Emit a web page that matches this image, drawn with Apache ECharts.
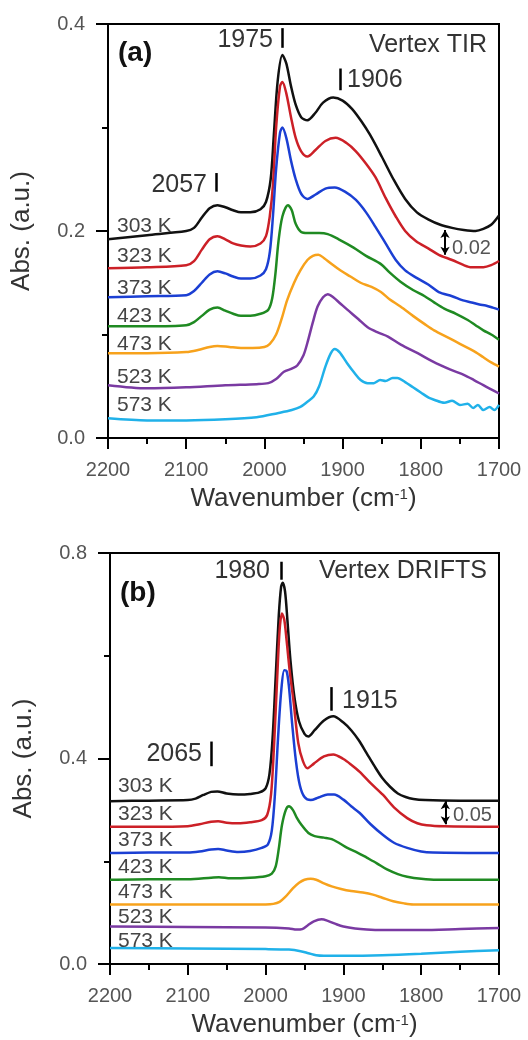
<!DOCTYPE html>
<html><head><meta charset="utf-8">
<script src="https://cdn.jsdelivr.net/npm/echarts@6/dist/echarts.min.js"></script>
<style>html,body{margin:0;padding:0;background:#fff}#c{width:528px;height:1040px}</style>
</head><body><div id="c"></div>
<script>
// ---------- DATA ----------
const temperatures = ['303 K','323 K','373 K','423 K','473 K','523 K','573 K'];

// Panel (a) Vertex TIR : [wavenumber, absorbance]
const tir303 = [[2200,0.192],[2150,0.196],[2100,0.200],[2090,0.203],[2080,0.213],[2070,0.222],[2060,0.225],[2050,0.223],[2040,0.220],[2030,0.218],[2018,0.218],[2005,0.221],[1998,0.228],[1992,0.250],[1988,0.292],[1983,0.345],[1977,0.370],[1972,0.362],[1966,0.340],[1960,0.322],[1953,0.310],[1945,0.307],[1935,0.314],[1925,0.324],[1912,0.329],[1900,0.326],[1888,0.318],[1876,0.306],[1865,0.293],[1850,0.272],[1835,0.250],[1820,0.231],[1805,0.218],[1790,0.211],[1775,0.206],[1760,0.203],[1745,0.201],[1730,0.200],[1720,0.202],[1710,0.206],[1700,0.215]];
const tir323 = [[2200,0.164],[2150,0.165],[2100,0.167],[2090,0.171],[2080,0.182],[2070,0.192],[2060,0.195],[2050,0.192],[2040,0.188],[2030,0.186],[2018,0.185],[2005,0.188],[1998,0.195],[1993,0.215],[1989,0.245],[1985,0.300],[1980,0.340],[1977,0.344],[1972,0.333],[1966,0.310],[1960,0.290],[1953,0.277],[1945,0.272],[1935,0.278],[1922,0.287],[1909,0.290],[1895,0.285],[1883,0.277],[1870,0.265],[1858,0.252],[1845,0.232],[1832,0.214],[1820,0.200],[1806,0.190],[1790,0.183],[1777,0.177],[1760,0.172],[1745,0.167],[1735,0.165],[1720,0.165],[1710,0.167],[1700,0.171]];
const tir373 = [[2200,0.136],[2150,0.137],[2100,0.138],[2090,0.142],[2080,0.150],[2070,0.158],[2060,0.161],[2050,0.159],[2040,0.156],[2030,0.154],[2018,0.154],[2005,0.157],[1998,0.163],[1993,0.180],[1989,0.215],[1985,0.260],[1980,0.295],[1977,0.300],[1972,0.290],[1966,0.268],[1960,0.250],[1953,0.236],[1945,0.231],[1935,0.235],[1922,0.241],[1910,0.242],[1897,0.238],[1883,0.230],[1870,0.218],[1858,0.204],[1845,0.188],[1832,0.172],[1820,0.162],[1806,0.155],[1790,0.148],[1777,0.141],[1760,0.137],[1746,0.133],[1735,0.131],[1725,0.129],[1717,0.128],[1708,0.126],[1700,0.124]];
const tir423 = [[2200,0.108],[2150,0.108],[2100,0.109],[2090,0.112],[2080,0.118],[2070,0.124],[2060,0.126],[2050,0.123],[2040,0.120],[2030,0.118],[2018,0.118],[2005,0.120],[1995,0.124],[1990,0.135],[1986,0.158],[1982,0.190],[1977,0.214],[1970,0.225],[1965,0.220],[1960,0.207],[1953,0.199],[1945,0.198],[1930,0.198],[1919,0.197],[1905,0.192],[1886,0.184],[1870,0.176],[1851,0.168],[1840,0.160],[1826,0.151],[1810,0.143],[1795,0.137],[1783,0.131],[1770,0.125],[1755,0.120],[1740,0.114],[1730,0.109],[1720,0.104],[1710,0.100],[1700,0.095]];
const tir473 = [[2200,0.082],[2150,0.082],[2100,0.083],[2085,0.085],[2070,0.088],[2060,0.089],[2045,0.088],[2030,0.087],[2015,0.087],[2000,0.088],[1993,0.091],[1985,0.100],[1978,0.115],[1971,0.133],[1962,0.150],[1954,0.162],[1945,0.172],[1938,0.176],[1931,0.177],[1924,0.174],[1914,0.168],[1903,0.162],[1890,0.156],[1877,0.150],[1863,0.146],[1851,0.141],[1840,0.134],[1826,0.127],[1810,0.118],[1795,0.110],[1783,0.104],[1765,0.097],[1750,0.091],[1740,0.087],[1730,0.083],[1720,0.078],[1710,0.073],[1700,0.069]];
const tir523 = [[2200,0.051],[2150,0.048],[2100,0.049],[2050,0.051],[2010,0.052],[1995,0.053],[1985,0.057],[1975,0.064],[1965,0.067],[1958,0.070],[1950,0.080],[1945,0.092],[1938,0.112],[1932,0.127],[1925,0.136],[1919,0.139],[1912,0.136],[1903,0.130],[1894,0.124],[1880,0.115],[1868,0.107],[1855,0.102],[1842,0.098],[1825,0.090],[1804,0.082],[1785,0.074],[1762,0.066],[1745,0.061],[1732,0.056],[1720,0.051],[1710,0.047],[1700,0.043]];
const tir573 = [[2200,0.019],[2150,0.017],[2100,0.017],[2050,0.018],[2010,0.020],[1983,0.024],[1965,0.027],[1954,0.030],[1945,0.035],[1937,0.040],[1930,0.050],[1922,0.069],[1915,0.082],[1910,0.086],[1904,0.083],[1894,0.072],[1885,0.063],[1877,0.056],[1868,0.053],[1860,0.053],[1852,0.056],[1845,0.055],[1836,0.058],[1830,0.058],[1820,0.054],[1810,0.049],[1800,0.044],[1790,0.039],[1783,0.037],[1770,0.034],[1760,0.036],[1750,0.032],[1740,0.033],[1733,0.029],[1727,0.032],[1720,0.027],[1712,0.030],[1706,0.027],[1700,0.032]];

// Panel (b) Vertex DRIFTS : [wavenumber, absorbance]
const drifts303 = [[2200,0.317],[2150,0.318],[2100,0.319],[2090,0.322],[2080,0.329],[2070,0.335],[2062,0.336],[2050,0.332],[2035,0.330],[2020,0.331],[2008,0.334],[2000,0.342],[1995,0.370],[1991,0.440],[1987,0.560],[1983,0.680],[1980,0.735],[1978,0.742],[1975,0.725],[1972,0.670],[1968,0.590],[1963,0.520],[1957,0.472],[1950,0.448],[1945,0.443],[1937,0.455],[1925,0.474],[1913,0.482],[1900,0.470],[1890,0.455],[1880,0.435],[1870,0.410],[1860,0.385],[1850,0.362],[1840,0.345],[1830,0.332],[1820,0.325],[1810,0.321],[1795,0.319],[1750,0.318],[1700,0.318]];
const drifts323 = [[2200,0.267],[2150,0.267],[2100,0.268],[2085,0.272],[2070,0.277],[2061,0.278],[2050,0.275],[2035,0.274],[2020,0.276],[2005,0.280],[1998,0.290],[1993,0.330],[1989,0.430],[1985,0.560],[1982,0.650],[1979,0.682],[1976,0.670],[1973,0.630],[1969,0.570],[1964,0.510],[1958,0.430],[1952,0.395],[1946,0.381],[1938,0.390],[1925,0.404],[1913,0.408],[1900,0.399],[1890,0.388],[1879,0.374],[1865,0.352],[1849,0.329],[1835,0.305],[1818,0.284],[1805,0.274],[1793,0.270],[1770,0.268],[1700,0.267]];
const drifts373 = [[2200,0.216],[2150,0.217],[2100,0.217],[2085,0.219],[2070,0.223],[2061,0.224],[2050,0.221],[2035,0.218],[2020,0.220],[2005,0.226],[1997,0.233],[1992,0.260],[1988,0.330],[1984,0.440],[1980,0.530],[1976,0.572],[1973,0.570],[1970,0.540],[1966,0.470],[1961,0.395],[1956,0.348],[1950,0.325],[1942,0.319],[1932,0.324],[1920,0.330],[1912,0.330],[1900,0.320],[1890,0.307],[1879,0.294],[1865,0.272],[1849,0.251],[1835,0.236],[1818,0.226],[1800,0.219],[1785,0.217],[1700,0.216]];
const drifts423 = [[2200,0.164],[2150,0.165],[2100,0.165],[2070,0.168],[2060,0.169],[2045,0.167],[2020,0.168],[2000,0.171],[1992,0.176],[1987,0.190],[1983,0.225],[1979,0.270],[1974,0.300],[1970,0.307],[1965,0.300],[1960,0.285],[1954,0.271],[1945,0.255],[1937,0.249],[1925,0.246],[1915,0.243],[1905,0.235],[1895,0.226],[1882,0.217],[1870,0.207],[1857,0.196],[1844,0.184],[1830,0.175],[1818,0.170],[1800,0.166],[1780,0.164],[1700,0.164]];
const drifts473 = [[2200,0.116],[2100,0.116],[2000,0.116],[1990,0.117],[1982,0.121],[1975,0.130],[1965,0.147],[1957,0.158],[1950,0.164],[1942,0.166],[1935,0.164],[1925,0.157],[1915,0.151],[1903,0.146],[1890,0.142],[1875,0.139],[1862,0.135],[1850,0.129],[1836,0.122],[1822,0.118],[1810,0.116],[1700,0.116]];
const drifts523 = [[2200,0.073],[2100,0.072],[2000,0.071],[1970,0.069],[1960,0.067],[1953,0.068],[1946,0.075],[1938,0.083],[1928,0.087],[1920,0.084],[1910,0.078],[1900,0.073],[1885,0.069],[1870,0.067],[1850,0.066],[1800,0.066],[1750,0.068],[1700,0.070]];
const drifts573 = [[2200,0.031],[2100,0.030],[2000,0.029],[1970,0.028],[1955,0.025],[1945,0.021],[1935,0.017],[1925,0.016],[1900,0.016],[1850,0.017],[1800,0.020],[1750,0.024],[1700,0.027]];

// peak annotations: label, marker wavenumber, marker y-range
const tirPeakLabels = ['2057','1975','1906'];
const tirPeakWave = [2062, 1977, 1903];
const tirPeakRange = [[0.238,0.256],[0.377,0.396],[0.336,0.357]];
const driftsPeakLabels = ['2065','1980','1915'];
const driftsPeakWave = [2070, 1980, 1915];
const driftsPeakRange = [[0.385,0.433],[0.748,0.783],[0.493,0.539]];
// scale bars
const tirScale = {label:'0.02', wave:1769, from:0.177, to:0.201};
const driftsScale = {label:'0.05', wave:1769, from:0.272, to:0.317};

const xTicks = [2200, 2100, 2000, 1900, 1800, 1700];

// ---------- CHART ----------
const FONT = '"Liberation Sans", Arial, Helvetica, sans-serif';
const colors = ['#111111','#cc2027','#1b3fd3','#1f8a22','#f7a21c','#7a3aa2','#20b1e9'];
const tirData = [tir303, tir323, tir373, tir423, tir473, tir523, tir573];
const driftsData = [drifts303, drifts323, drifts373, drifts423, drifts473, drifts523, drifts573];

function xAxisCfg(gi){
  return {
    gridIndex: gi, type:'value', min:1700, max:2200, interval:100, inverse:true,
    axisLine:{lineStyle:{color:'#000', width:2}},
    axisTick:{show:true, length:11, lineStyle:{color:'#000', width:2}},
    minorTick:{show:true, splitNumber:2, length:6, lineStyle:{color:'#000', width:2}},
    splitLine:{show:false}, minorSplitLine:{show:false},
    axisLabel:{fontSize:20, color:'#555', margin:22, fontFamily:FONT,
      formatter: v => xTicks.includes(v) ? String(v) : ''},
    name:'Wavenumber (cm{sup|-1})', nameLocation:'middle', nameGap:47,
    nameTextStyle:{fontSize:26, color:'#333', fontFamily:FONT, lineHeight:28,
      rich:{sup:{fontSize:15, verticalAlign:'top', lineHeight:15, color:'#333', fontFamily:FONT, padding:[2,0,0,0]}}}
  };
}
function yAxisCfg(gi, max, interval){
  return {
    gridIndex: gi, type:'value', min:0, max:max, interval:interval,
    axisLine:{show:true, lineStyle:{color:'#000', width:2}},
    axisTick:{show:true, length:12, lineStyle:{color:'#000', width:2}},
    minorTick:{show:true, splitNumber:2, length:6, lineStyle:{color:'#000', width:2}},
    splitLine:{show:false}, minorSplitLine:{show:false},
    axisLabel:{fontSize:20, color:'#555', margin:23, fontFamily:FONT, formatter: v => v.toFixed(1)},
    name:'Abs. (a.u.)', nameLocation:'middle', nameGap:73, nameRotate:90,
    nameTextStyle:{fontSize:26, color:'#333', fontFamily:FONT}
  };
}

function peakMarks(waves, ranges){
  return waves.map((w,i)=>[{coord:[w, ranges[i][1]]},{coord:[w, ranges[i][0]]}]);
}

const series = [];
function addPanel(dataList, gi, waves, ranges, scale){
  dataList.forEach((d, i) => {
    const s = {
      type:'line', xAxisIndex:gi, yAxisIndex:gi, data:d, name:temperatures[i],
      smooth:0.3, showSymbol:false, symbol:'none', silent:true, animation:false,
      lineStyle:{color:colors[i], width:2.5}, z:2+i
    };
    if (i === 0) {
      s.markLine = {silent:true, animation:false, symbol:['none','none'], label:{show:false},
        lineStyle:{color:'#000', width:2.5, type:'solid'}, data: peakMarks(waves, ranges)};
    }
    if (i === 1) {
      s.markLine = {silent:true, animation:false, symbol:['arrow','arrow'], symbolSize:[7,8], label:{show:false},
        lineStyle:{color:'#000', width:2, type:'solid'},
        data:[[{coord:[scale.wave, scale.to]},{coord:[scale.wave, scale.from]}]]};
    }
    series.push(s);
  });
}
addPanel(tirData, 0, tirPeakWave, tirPeakRange, tirScale);
addPanel(driftsData, 1, driftsPeakWave, driftsPeakRange, driftsScale);

function txt(text, x, y, size, opt){
  opt = opt || {};
  return {type:'text', x:x, y:y, silent:true, z:100,
    style:{text:text, fill:opt.color || '#333', font:(opt.bold?'bold ':'') + size + 'px ' + FONT,
      textAlign:opt.align || 'left', textVerticalAlign:'middle'}};
}

const tirLabelY = [226, 256, 288, 316, 344, 377, 405];
const driftsLabelY = [786, 814, 840, 867, 892, 917, 941];
const graphics = [
  txt('(a)', 118, 53, 28, {bold:true, color:'#111'}),
  txt('Vertex TIR', 487, 45, 25, {align:'right'}),
  txt(tirPeakLabels[1], 273, 40, 25, {align:'right'}),
  txt(tirPeakLabels[2], 347, 80, 25),
  txt(tirPeakLabels[0], 207, 185, 25, {align:'right'}),
  txt(tirScale.label, 452, 248, 20, {color:'#555'}),
  txt('(b)', 120, 593, 28, {bold:true, color:'#111'}),
  txt('Vertex DRIFTS', 487, 571, 25, {align:'right'}),
  txt(driftsPeakLabels[1], 270, 571, 25, {align:'right'}),
  txt(driftsPeakLabels[2], 342, 701, 25),
  txt(driftsPeakLabels[0], 202, 754, 25, {align:'right'}),
  txt(driftsScale.label, 453, 815, 20, {color:'#555'})
];
temperatures.forEach((t,i)=>{
  graphics.push(txt(t, 117, tirLabelY[i], 21, {color:'#444'}));
  graphics.push(txt(t, 118, driftsLabelY[i], 21, {color:'#444'}));
});

const chart = echarts.init(document.getElementById('c'), null, {renderer:'canvas'});
chart.setOption({
  animation:false,
  backgroundColor:'#fff',
  grid:[
    {left:108, top:24, width:391, height:414, show:true, borderColor:'#000', borderWidth:2, backgroundColor:'transparent'},
    {left:110, top:553, width:389, height:414, show:true, borderColor:'#000', borderWidth:2, backgroundColor:'transparent'}
  ],
  xAxis:[xAxisCfg(0), xAxisCfg(1)],
  yAxis:[yAxisCfg(0, 0.4, 0.2), yAxisCfg(1, 0.8, 0.4)],
  series: series,
  graphic: graphics
});
</script>
</body></html>
